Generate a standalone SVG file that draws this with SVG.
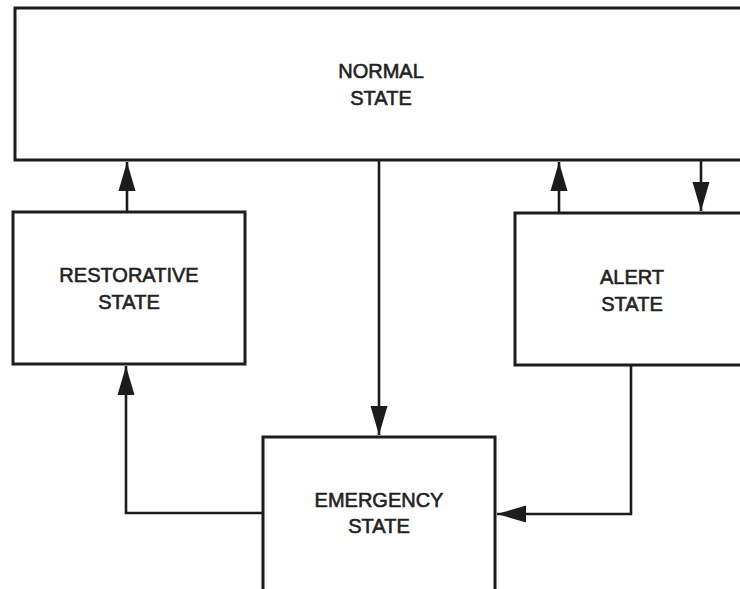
<svg xmlns="http://www.w3.org/2000/svg" width="740" height="589" viewBox="0 0 740 589">
  <style>
    .box { fill: #ffffff; stroke: #1c1c1c; stroke-width: 3; }
    .lbl { font-family: "Liberation Sans", Arial, sans-serif; font-size: 20px; fill: #222222; stroke: #222222; stroke-width: 0.6px; text-anchor: middle; }
    .wire { fill: none; stroke: #1c1c1c; stroke-width: 2.6; marker-end: url(#head); }
  </style>
  <defs>
    <marker id="head" viewBox="-30 -9 31 18" refX="0" refY="0" markerWidth="31" markerHeight="18" markerUnits="userSpaceOnUse" orient="auto">
      <path d="M0,0 L-29,-8.5 L-29,8.5 Z" fill="#1c1c1c"/>
    </marker>
  </defs>
  <rect width="740" height="589" fill="#ffffff"/>

  <g id="normal">
    <rect class="box" x="15" y="8" width="760" height="152"/>
    <text class="lbl" x="381" y="78">NORMAL</text>
    <text class="lbl" x="381" y="105">STATE</text>
  </g>

  <g id="restorative">
    <rect class="box" x="13" y="212" width="232" height="152"/>
    <text class="lbl" x="129" y="282">RESTORATIVE</text>
    <text class="lbl" x="129" y="309">STATE</text>
  </g>

  <g id="alert">
    <rect class="box" x="515" y="213" width="260" height="152"/>
    <text class="lbl" x="632" y="284">ALERT</text>
    <text class="lbl" x="632" y="311">STATE</text>
  </g>

  <g id="emergency">
    <rect class="box" x="263" y="437" width="232" height="170"/>
    <text class="lbl" x="379" y="507">EMERGENCY</text>
    <text class="lbl" x="379" y="533">STATE</text>
  </g>

  <g id="connectors">
    <!-- restorative -> normal -->
    <path class="wire" d="M127,212 L127,162"/>
    <!-- alert -> normal -->
    <path class="wire" d="M559,213 L559,162"/>
    <!-- normal -> alert -->
    <path class="wire" d="M701,160 L701,211"/>
    <!-- normal -> emergency -->
    <path class="wire" d="M379,160 L379,435"/>
    <!-- alert -> emergency -->
    <path class="wire" d="M631,365 L631,514 L497,514"/>
    <!-- emergency -> restorative -->
    <path class="wire" d="M263,513 L126,513 L126,366"/>
  </g>
</svg>
